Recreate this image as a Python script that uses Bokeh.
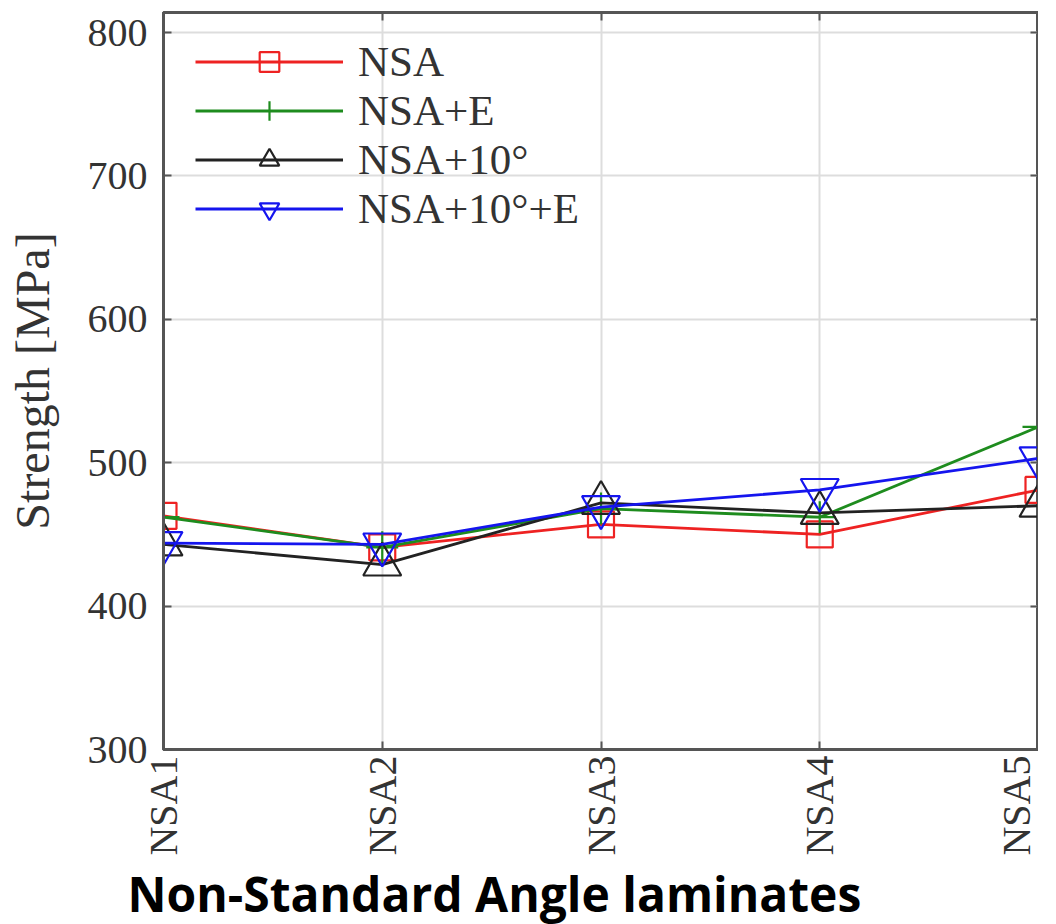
import math
from bokeh.plotting import figure
from bokeh.models import FixedTicker, LinearAxis, Legend, LegendItem, Title, Range1d
from bokeh.embed import file_html
from bokeh.resources import INLINE

categories = ["NSA1", "NSA2", "NSA3", "NSA4", "NSA5"]
series_names = ["NSA", "NSA+E", "NSA+10°", "NSA+10°+E"]
nsa = [463, 441, 457, 450, 481]
nsa_e = [462, 441, 468, 462, 525]
nsa_10 = [443, 429, 472, 465, 470]
nsa_10_e = [444, 443, 469, 481, 503]
y_ticks = [300, 400, 500, 600, 700, 800]

x = list(range(1, len(categories) + 1))

SERIF = "Liberation Serif"
AX = "#555555"
TXT = "#333333"

p = figure(frame_width=875, frame_height=737,
           x_range=Range1d(1, 5), y_range=Range1d(300, 814),
           output_backend="svg", toolbar_location=None,
           min_border_left=163, min_border_top=12, min_border_right=0, min_border_bottom=0)
p.background_fill_color = "white"
p.border_fill_color = "white"
p.outline_line_color = AX
p.outline_line_width = 3

# axes
p.xaxis.ticker = FixedTicker(ticks=x)
p.xaxis.major_label_overrides = {xi: c for xi, c in zip(x, categories)}
p.xaxis.major_label_orientation = math.pi / 2
p.yaxis.ticker = FixedTicker(ticks=y_ticks)
for ax in (p.xaxis, p.yaxis):
    ax.axis_line_color = AX
    ax.axis_line_width = 3
    ax.major_tick_in = 8
    ax.major_tick_out = 0
    ax.major_tick_line_color = AX
    ax.major_tick_line_width = 2
    ax.minor_tick_line_color = None
    ax.major_label_text_font = SERIF
    ax.major_label_text_color = TXT
p.yaxis.major_label_text_font_size = "40px"
p.yaxis.major_label_standoff = 16
p.xaxis.major_label_text_font_size = "40px"
p.xaxis.major_label_standoff = 6
p.yaxis.axis_label = "Strength [MPa]"
p.yaxis.axis_label_text_font = SERIF
p.yaxis.axis_label_text_font_size = "48px"
p.yaxis.axis_label_text_font_style = "normal"
p.yaxis.axis_label_text_color = TXT
p.yaxis.axis_label_standoff = 26

top = LinearAxis(ticker=FixedTicker(ticks=x), major_label_overrides={xi: "" for xi in x},
                 major_tick_in=8, major_tick_out=0, major_tick_line_color=AX, major_tick_line_width=2,
                 axis_line_color=AX, axis_line_width=3, major_label_standoff=0,
                 minor_tick_line_color=None)
p.add_layout(top, "above")
right = LinearAxis(ticker=FixedTicker(ticks=y_ticks), major_label_overrides={t: "" for t in y_ticks},
                   major_tick_in=8, major_tick_out=0, major_tick_line_color=AX, major_tick_line_width=2,
                   axis_line_color=AX, axis_line_width=3, major_label_standoff=0,
                   minor_tick_line_color=None)
p.add_layout(right, "right")

# grid
p.xgrid.ticker = FixedTicker(ticks=x)
p.ygrid.ticker = FixedTicker(ticks=y_ticks)
for g in (p.xgrid, p.ygrid):
    g.grid_line_color = "#dddddd"
    g.grid_line_width = 2

styles = [
    (nsa, "#ee2222", "square", 26),
    (nsa_e, "#1e8c1e", "cross", 32),
    (nsa_10, "#222222", "triangle", 38),
    (nsa_10_e, "#1515ee", "inverted_triangle", 38),
]
items = []
for name, (vals, col, mk, sz) in zip(series_names, styles):
    lr = p.line(x, vals, line_color=col, line_width=2.8)
    sr = p.scatter(x, vals, marker=mk, size=sz, fill_color=None, line_color=col, line_width=2.2)
    items.append(LegendItem(label=name, renderers=[lr, sr]))

legend = Legend(items=items, location=(32, 516), glyph_width=148, glyph_height=49,
                label_standoff=15, spacing=0, padding=0, margin=0,
                border_line_color=None, background_fill_alpha=0,
                label_text_font=SERIF, label_text_font_size="43px", label_text_color=TXT)
p.add_layout(legend)

t = Title(text="Non-Standard Angle laminates", align="left", offset=-36,
          text_font="Open Sans", text_font_style="bold", text_font_size="48px",
          text_color="black", standoff=0)
p.add_layout(t, "below")

open("out.html", "w").write(file_html(p, INLINE))
